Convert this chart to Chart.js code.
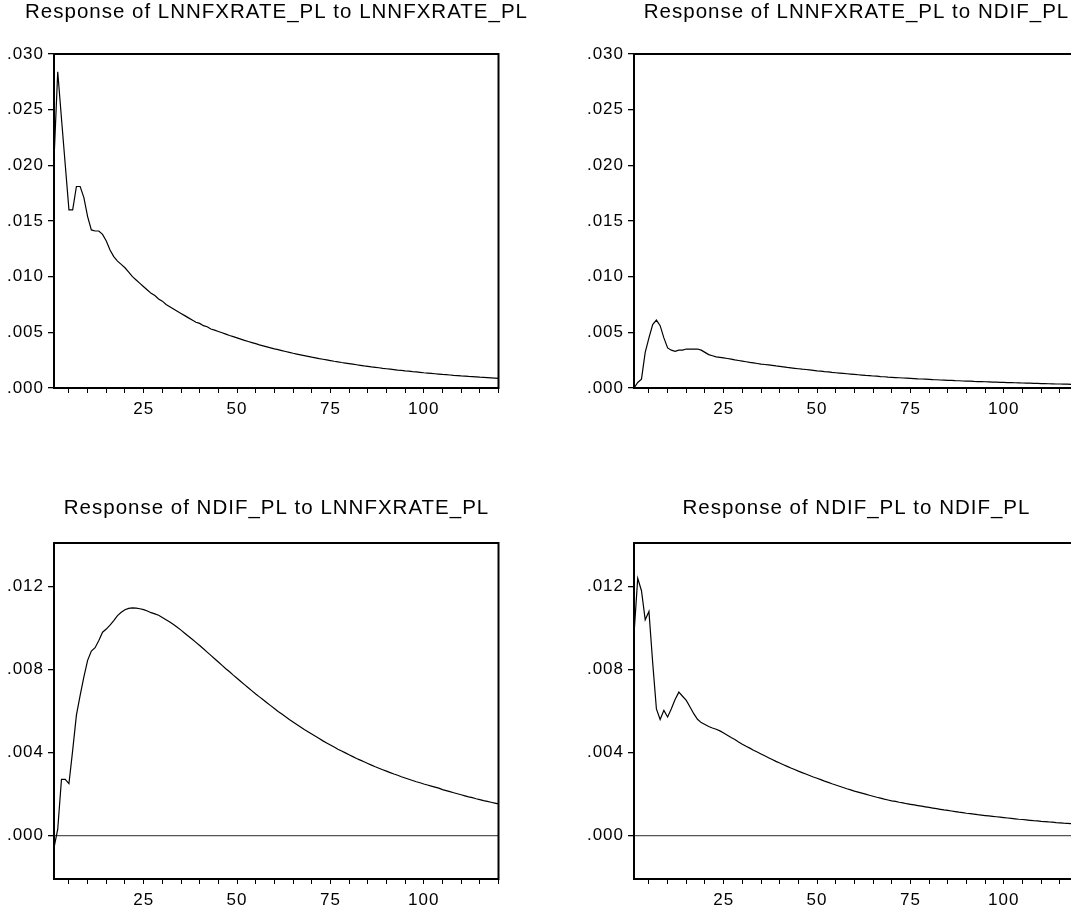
<!DOCTYPE html>
<html>
<head>
<meta charset="utf-8">
<script src="https://cdn.jsdelivr.net/npm/chart.js@4.4.1/dist/chart.umd.min.js"></script>
<style>
  html, body { margin: 0; padding: 0; background: #fff; width: 1071px; height: 907px; overflow: hidden; }
  canvas { position: absolute; display: block; }
</style>
</head>
<body>
<canvas id="p11" width="553" height="440" style="left:0px;top:0px"></canvas>
<canvas id="p12" width="553" height="440" style="left:580px;top:0px"></canvas>
<canvas id="p21" width="553" height="430" style="left:0px;top:490px"></canvas>
<canvas id="p22" width="553" height="430" style="left:580px;top:490px"></canvas>
<script>
// Horizon (periods after the shock)
const periods = Array.from({ length: 120 }, (_, i) => i + 1);

// Response of LNNFXRATE_PL to LNNFXRATE_PL
const fxToFx = [
  0.0205, 0.0284, 0.0242, 0.0201, 0.0160, 0.0160, 0.0181, 0.0181, 0.0171, 0.0154,
  0.0142, 0.0141, 0.0141, 0.0138, 0.0132, 0.0124, 0.0118, 0.0114, 0.0111, 0.0108,
  0.0104, 0.0100, 0.0097, 0.0094, 0.0091, 0.0088, 0.0085, 0.0083, 0.0080, 0.0078,
  0.0075, 0.0073, 0.0071, 0.0069, 0.0067, 0.0065, 0.0063, 0.0061, 0.0059, 0.0058,
  0.0056, 0.0055, 0.0053, 0.0052, 0.00508, 0.00496, 0.00484, 0.00472, 0.00461, 0.00450,
  0.00439, 0.00428, 0.00418, 0.00408, 0.00398, 0.00388, 0.00379, 0.00370, 0.00361, 0.00352,
  0.00344, 0.00336, 0.00328, 0.00320, 0.00312, 0.00305, 0.00298, 0.00291, 0.00284, 0.00277,
  0.00271, 0.00264, 0.00258, 0.00252, 0.00246, 0.00240, 0.00235, 0.00229, 0.00224, 0.00219,
  0.00214, 0.00209, 0.00204, 0.00199, 0.00195, 0.00190, 0.00186, 0.00182, 0.00177, 0.00173,
  0.00169, 0.00165, 0.00161, 0.00158, 0.00154, 0.00151, 0.00147, 0.00144, 0.00141, 0.00137,
  0.00134, 0.00131, 0.00128, 0.00125, 0.00122, 0.00120, 0.00117, 0.00114, 0.00112, 0.00109,
  0.00107, 0.00104, 0.00102, 0.00100, 0.00097, 0.00095, 0.00093, 0.00091, 0.00089, 0.00087
];

// Response of LNNFXRATE_PL to NDIF_PL
const fxToNdif = [
  0.0000, 0.0005, 0.0008, 0.0032, 0.0045, 0.0057, 0.0061, 0.0056, 0.0045, 0.0036,
  0.0034, 0.0033, 0.0034, 0.0034, 0.0035, 0.0035, 0.0035, 0.0035, 0.0034, 0.0032,
  0.0030, 0.0029, 0.0028, 0.00275, 0.0027, 0.00265, 0.0026, 0.00252, 0.00247, 0.00242,
  0.00236, 0.00230, 0.00225, 0.00220, 0.00214, 0.00211, 0.00207, 0.00203, 0.00198, 0.00194,
  0.00190, 0.00185, 0.00181, 0.00177, 0.00173, 0.00169, 0.00166, 0.00162, 0.00158, 0.00154,
  0.00151, 0.00147, 0.00144, 0.00140, 0.00137, 0.00134, 0.00131, 0.00128, 0.00125, 0.00122,
  0.00119, 0.00116, 0.00113, 0.00111, 0.00108, 0.00106, 0.00103, 0.00101, 0.00098, 0.00096,
  0.00094, 0.00092, 0.00090, 0.00088, 0.00086, 0.00084, 0.00082, 0.00081, 0.00079, 0.00077,
  0.00075, 0.00074, 0.00072, 0.00071, 0.00069, 0.00068, 0.00066, 0.00065, 0.00063, 0.00062,
  0.00061, 0.00059, 0.00058, 0.00057, 0.00056, 0.00055, 0.00053, 0.00052, 0.00051, 0.00050,
  0.00049, 0.00048, 0.00047, 0.00046, 0.00045, 0.00044, 0.00043, 0.00042, 0.00041, 0.00040,
  0.00039, 0.00038, 0.00037, 0.00036, 0.00036, 0.00035, 0.00034, 0.00033, 0.00033, 0.00032
];

// Response of NDIF_PL to LNNFXRATE_PL
const ndifToFx = [
  -0.0006, 0.0003, 0.0027, 0.0027, 0.0025, 0.0041, 0.0058, 0.00675, 0.00764, 0.00844,
  0.00889, 0.00905, 0.0094, 0.0098, 0.00995, 0.01014, 0.01036, 0.0106, 0.01076, 0.01088,
  0.01095, 0.01097, 0.01096, 0.01093, 0.01089, 0.01082, 0.01074, 0.01068, 0.01062, 0.01051,
  0.0104, 0.01029, 0.01017, 0.01004, 0.0099, 0.00975, 0.0096, 0.00946, 0.00931, 0.00916,
  0.0090, 0.00884, 0.00868, 0.00852, 0.00836, 0.0082, 0.00804, 0.00789, 0.00773, 0.00758,
  0.00742, 0.00727, 0.00712, 0.00697, 0.00682, 0.00668, 0.00654, 0.0064, 0.00626, 0.00612,
  0.00598, 0.00585, 0.00572, 0.00559, 0.00547, 0.00535, 0.00523, 0.00511, 0.0050, 0.00489,
  0.00478, 0.00467, 0.00456, 0.00446, 0.00436, 0.00426, 0.00416, 0.00407, 0.00398, 0.00389,
  0.0038, 0.00371, 0.00363, 0.00355, 0.00347, 0.00339, 0.00331, 0.00324, 0.00317, 0.0031,
  0.00303, 0.00296, 0.0029, 0.00283, 0.00277, 0.00271, 0.00265, 0.00259, 0.00254, 0.00248,
  0.00243, 0.00238, 0.00233, 0.00228, 0.00221, 0.00216, 0.00211, 0.00206, 0.00201, 0.00196,
  0.00191, 0.00186, 0.00182, 0.00177, 0.00173, 0.00168, 0.00164, 0.0016, 0.00156, 0.00152
];

// Response of NDIF_PL to NDIF_PL
const ndifToNdif = [
  0.0097, 0.0124, 0.0118, 0.0104, 0.0108, 0.00834, 0.0061, 0.00559, 0.00603, 0.00571,
  0.00611, 0.00655, 0.00691, 0.00671, 0.00651, 0.00619, 0.00587, 0.0056, 0.00544, 0.00535,
  0.00525, 0.00518, 0.00512, 0.00504, 0.00494, 0.00483, 0.00472, 0.00463, 0.00451, 0.0044,
  0.0043, 0.00421, 0.00411, 0.00402, 0.00393, 0.00384, 0.00375, 0.00366, 0.00357, 0.00349,
  0.00341, 0.00333, 0.00325, 0.00318, 0.0031, 0.00303, 0.00296, 0.00289, 0.00282, 0.00276,
  0.00269, 0.00262, 0.00256, 0.00249, 0.00243, 0.00237, 0.00231, 0.00225, 0.0022, 0.00214,
  0.00209, 0.00204, 0.00199, 0.00194, 0.00189, 0.00184, 0.0018, 0.00175, 0.00171, 0.00167,
  0.00164, 0.0016, 0.00157, 0.00153, 0.0015, 0.00147, 0.00144, 0.00141, 0.00138, 0.00135,
  0.00132, 0.00129, 0.00126, 0.00123, 0.00121, 0.00118, 0.00115, 0.00112, 0.0011, 0.00107,
  0.00105, 0.00103, 0.0010, 0.00098, 0.00096, 0.00094, 0.00092, 0.0009, 0.00088, 0.00086,
  0.00084, 0.00082, 0.0008, 0.00078, 0.00077, 0.00075, 0.00073, 0.00071, 0.0007, 0.00068,
  0.00067, 0.00065, 0.00064, 0.00062, 0.00061, 0.00059, 0.00058, 0.00057, 0.00055, 0.00054
];

// Axis ticks
const xTickValues = [5, 10, 15, 20, 25, 30, 35, 40, 45, 50, 55, 60, 65, 70, 75, 80, 85, 90, 95, 100, 105, 110, 115, 120];
const xTickLabels = [25, 50, 75, 100];
const yTicksTop = [0, 0.005, 0.010, 0.015, 0.020, 0.025, 0.030];
const yTicksBottom = [0, 0.004, 0.008, 0.012];

const FONT = "'Liberation Sans', Arial, Helvetica, sans-serif";

// Slightly spaced-out lettering for all chart text
const spacingPlugin = {
  id: 'spacing',
  beforeUpdate(chart) { chart.ctx.letterSpacing = '1px'; },
  beforeDraw(chart) { chart.ctx.letterSpacing = '1px'; }
};

// Frame drawn round the plot area
const framePlugin = {
  id: 'frame',
  afterDatasetsDraw(chart) {
    const { ctx, chartArea: a } = chart;
    ctx.save();
    ctx.strokeStyle = '#000';
    ctx.lineWidth = 2;
    ctx.strokeRect(a.left, a.top, a.right - a.left, a.bottom - a.top);
    ctx.restore();
  }
};

function fmt(v) {
  return v.toFixed(3).replace(/^0/, '').replace(/^-0/, '-');
}

function makePanel(id, title, values, opts) {
  const canvas = document.getElementById(id);
  const H = canvas.height;
  return new Chart(canvas, {
    type: 'line',
    data: {
      datasets: [{
        data: periods.map((p, i) => ({ x: p, y: values[i] })),
        borderColor: '#000',
        borderWidth: 1.2,
        pointRadius: 0,
        tension: 0,
        fill: false
      }]
    },
    options: {
      responsive: false,
      animation: false,
      devicePixelRatio: 1,
      layout: { padding: 0 },
      plugins: {
        legend: { display: false },
        tooltip: { enabled: false },
        title: {
          display: true,
          text: title,
          color: '#000',
          font: { family: FONT, size: 20.5, weight: 'normal', lineHeight: 1.2 },
          padding: opts.titlePad
        }
      },
      scales: {
        x: {
          type: 'linear',
          min: 1,
          max: 120,
          afterBuildTicks(scale) { scale.ticks = xTickValues.map(v => ({ value: v })); },
          afterFit(scale) { scale.height = H - opts.plotBottom; },
          ticks: {
            autoSkip: false,
            maxRotation: 0,
            color: '#000',
            padding: 6,
            font: { family: FONT, size: 17 },
            callback: v => (xTickLabels.includes(v) ? String(v) : '')
          },
          grid: { drawOnChartArea: false, drawTicks: true, tickLength: 5, color: '#000', lineWidth: 1 },
          border: { display: true, color: '#000', width: 2 }
        },
        y: {
          type: 'linear',
          position: 'left',
          min: opts.yMin,
          max: opts.yMax,
          afterBuildTicks(scale) { scale.ticks = opts.yTicks.map(v => ({ value: v })); },
          afterFit(scale) { scale.width = 54; },
          ticks: {
            color: '#000',
            padding: 4,
            font: { family: FONT, size: 17 },
            callback: v => fmt(v)
          },
          grid: {
            drawOnChartArea: true,
            drawTicks: true,
            tickLength: 6,
            tickColor: '#000',
            lineWidth: 1.3,
            color: c => (opts.zeroLine && c.tick && c.tick.value === 0 ? '#555' : 'rgba(0,0,0,0)')
          },
          border: { display: true, color: '#000', width: 2 }
        },
        // Unlabelled right-hand margin so the title is centred over the plot
        yRight: {
          type: 'linear',
          position: 'right',
          min: opts.yMin,
          max: opts.yMax,
          afterFit(scale) { scale.width = 54.5; },
          ticks: { display: false },
          grid: { display: false },
          border: { display: false }
        }
      }
    },
    plugins: [spacingPlugin, framePlugin]
  });
}

const topOpts = { yMin: 0, yMax: 0.030, yTicks: yTicksTop, zeroLine: false, plotBottom: 388, titlePad: { top: 0, bottom: 29.4 } };
const botOpts = { yMin: -0.0021, yMax: 0.0141, yTicks: yTicksBottom, zeroLine: true, plotBottom: 389, titlePad: { top: 6, bottom: 22.4 } };

makePanel('p11', 'Response of LNNFXRATE_PL to LNNFXRATE_PL', fxToFx, topOpts);
makePanel('p12', 'Response of LNNFXRATE_PL to NDIF_PL', fxToNdif, topOpts);
makePanel('p21', 'Response of NDIF_PL to LNNFXRATE_PL', ndifToFx, botOpts);
makePanel('p22', 'Response of NDIF_PL to NDIF_PL', ndifToNdif, botOpts);
</script>
</body>
</html>
